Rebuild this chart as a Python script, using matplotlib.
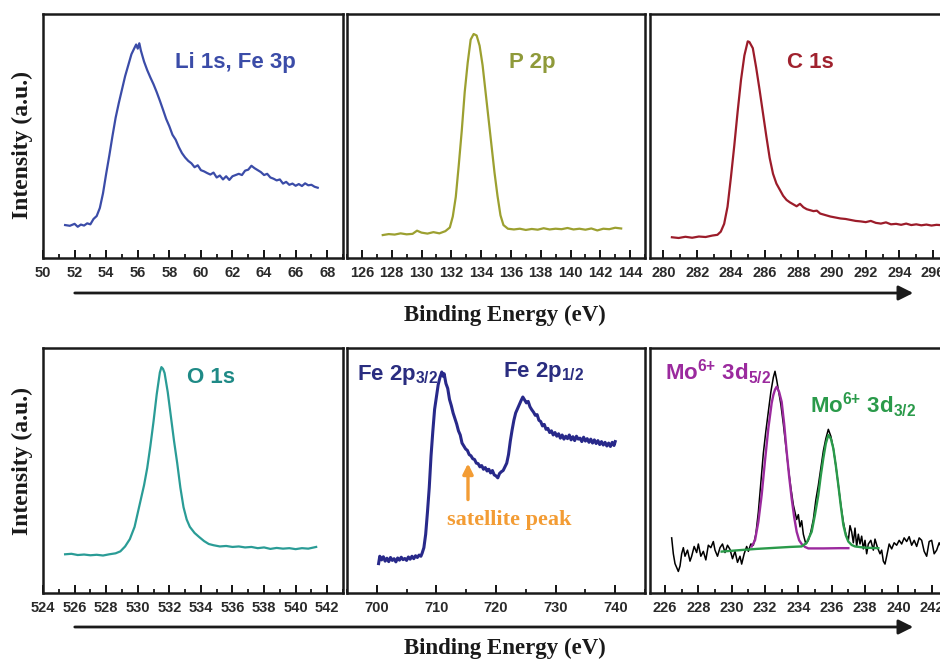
import matplotlib
matplotlib.use("Agg")
import matplotlib.pyplot as plt
from matplotlib.patches import FancyArrowPatch
from matplotlib.ticker import MultipleLocator

plt.rcParams['font.family'] = ['Liberation Sans', 'DejaVu Sans']
plt.rcParams['mathtext.default'] = 'regular'

# ---- Li 1s, Fe 3p ----
li_x = [51.4, 51.7, 52.0, 52.2, 52.4, 52.6, 52.8, 53.0, 53.2, 53.4, 53.6, 53.8, 54.0, 54.2,
        54.4, 54.6, 54.8, 55.0, 55.2, 55.4, 55.6, 55.8, 55.9, 56.0, 56.1, 56.2, 56.4, 56.6,
        56.8, 57.0, 57.2, 57.4, 57.6, 57.8, 58.0, 58.2, 58.4, 58.6, 58.8, 59.0, 59.2, 59.4,
        59.6, 59.8, 60.0, 60.2, 60.4, 60.6, 60.8, 61.0, 61.2, 61.4, 61.6, 61.8, 62.0, 62.2,
        62.4, 62.6, 62.8, 63.0, 63.2, 63.4, 63.6, 63.8, 64.0, 64.2, 64.4, 64.6, 64.8, 65.0,
        65.2, 65.4, 65.6, 65.8, 66.0, 66.2, 66.4, 66.6, 66.8, 67.0, 67.2, 67.4]
li_y = [0.135, 0.132, 0.140, 0.128, 0.137, 0.133, 0.142, 0.138, 0.160, 0.172, 0.205, 0.265,
        0.345, 0.420, 0.500, 0.575, 0.635, 0.690, 0.745, 0.790, 0.835, 0.862, 0.875, 0.858,
        0.880, 0.850, 0.805, 0.770, 0.740, 0.712, 0.680, 0.645, 0.608, 0.570, 0.540, 0.505,
        0.485, 0.455, 0.430, 0.412, 0.398, 0.388, 0.372, 0.380, 0.360, 0.355, 0.348, 0.342,
        0.350, 0.330, 0.338, 0.322, 0.335, 0.320, 0.335, 0.340, 0.345, 0.340, 0.358, 0.362,
        0.378, 0.368, 0.360, 0.352, 0.340, 0.345, 0.330, 0.325, 0.318, 0.322, 0.305, 0.312,
        0.300, 0.305, 0.296, 0.303, 0.295, 0.306, 0.298, 0.300, 0.292, 0.288]

# ---- P 2p ----
p_x = [127.4, 127.8, 128.2, 128.6, 129.0, 129.4, 129.7, 130.0, 130.4, 130.8, 131.2, 131.6,
       131.9, 132.1, 132.3, 132.5, 132.7, 132.9, 133.1, 133.3, 133.5, 133.7, 133.9, 134.1,
       134.3, 134.5, 134.7, 134.9, 135.1, 135.3, 135.5, 135.8, 136.2, 136.6, 137.0, 137.4,
       137.8, 138.2, 138.6, 139.0, 139.4, 139.8, 140.2, 140.6, 141.0, 141.4, 141.8, 142.2,
       142.6, 143.0, 143.4]
p_y = [0.094, 0.098, 0.096, 0.101, 0.097, 0.099, 0.112, 0.104, 0.100, 0.106, 0.101, 0.110,
       0.125, 0.170, 0.250, 0.380, 0.520, 0.680, 0.800, 0.895, 0.918, 0.912, 0.870, 0.790,
       0.680, 0.570, 0.460, 0.350, 0.255, 0.175, 0.135, 0.120, 0.117, 0.120, 0.115, 0.119,
       0.116, 0.122, 0.117, 0.120, 0.118, 0.123, 0.117, 0.120, 0.116, 0.121, 0.113, 0.120,
       0.118, 0.124, 0.121]

# ---- C 1s ----
c_x = [280.5, 280.9, 281.3, 281.7, 282.1, 282.5, 282.9, 283.2, 283.4, 283.6, 283.8, 284.0,
       284.2, 284.4, 284.6, 284.8, 285.0, 285.1, 285.3, 285.5, 285.7, 285.9, 286.1, 286.3,
       286.5, 286.7, 286.9, 287.1, 287.3, 287.5, 287.7, 287.9, 288.1, 288.3, 288.5, 288.7,
       288.9, 289.1, 289.3, 289.6, 289.9, 290.2, 290.5, 290.8, 291.1, 291.4, 291.7, 292.0,
       292.3, 292.6, 292.9, 293.2, 293.5, 293.8, 294.1, 294.4, 294.7, 295.0, 295.3, 295.6,
       295.9, 296.2, 296.6, 297.0]
c_y = [0.085, 0.082, 0.087, 0.083, 0.088, 0.086, 0.092, 0.095, 0.108, 0.140, 0.210, 0.330,
       0.460, 0.600, 0.730, 0.830, 0.888, 0.885, 0.860, 0.780, 0.690, 0.595, 0.500, 0.410,
       0.345, 0.305, 0.280, 0.255, 0.238, 0.228, 0.220, 0.212, 0.222, 0.208, 0.200, 0.196,
       0.192, 0.194, 0.182, 0.176, 0.170, 0.166, 0.162, 0.160, 0.156, 0.152, 0.150, 0.147,
       0.152, 0.144, 0.141, 0.146, 0.138, 0.140, 0.136, 0.141, 0.135, 0.138, 0.134, 0.137,
       0.133, 0.136, 0.134, 0.135]

# ---- O 1s ----
o_x = [525.4, 525.8, 526.2, 526.6, 527.0, 527.4, 527.8, 528.2, 528.6, 528.9, 529.2, 529.5,
       529.8, 530.1, 530.4, 530.6, 530.8, 531.0, 531.2, 531.4, 531.5, 531.6, 531.7, 531.9,
       532.1, 532.3, 532.5, 532.7, 532.9, 533.1, 533.3, 533.6, 533.9, 534.2, 534.5, 534.8,
       535.2, 535.6, 536.0, 536.4, 536.8, 537.2, 537.6, 538.0, 538.4, 538.8, 539.2, 539.6,
       540.0, 540.4, 540.8, 541.3]
o_y = [0.158, 0.160, 0.155, 0.157, 0.154, 0.156, 0.153, 0.158, 0.162, 0.170, 0.190, 0.220,
       0.270, 0.355, 0.440, 0.510, 0.600, 0.700, 0.810, 0.900, 0.922, 0.915, 0.898, 0.820,
       0.720, 0.620, 0.530, 0.430, 0.350, 0.300, 0.270, 0.245, 0.228, 0.212, 0.200, 0.195,
       0.190, 0.192, 0.188, 0.190, 0.186, 0.188, 0.183, 0.186, 0.180, 0.184, 0.181, 0.183,
       0.179, 0.183, 0.181, 0.188]

# ---- Fe 2p ----
fe_x = [700.3, 700.5, 700.8, 701.1, 701.4, 701.7, 702.0, 702.3, 702.6, 702.9, 703.2, 703.5,
        703.8, 704.1, 704.4, 704.7, 705.0, 705.3, 705.6, 705.9, 706.2, 706.5, 706.8, 707.1,
        707.4, 707.6, 707.9, 708.2, 708.5, 708.8, 709.1, 709.4, 709.7, 710.0, 710.3, 710.6,
        710.9, 711.1, 711.3, 711.6, 711.9, 712.2, 712.5, 712.8, 713.1, 713.4, 713.7, 714.0,
        714.3, 714.6, 714.9, 715.2, 715.5, 715.8, 716.1, 716.4, 716.7, 717.0, 717.3, 717.6,
        717.9, 718.2, 718.5, 718.8, 719.1, 719.4, 719.7, 720.0, 720.3, 720.6, 720.9, 721.2,
        721.5, 721.8, 722.1, 722.4, 722.7, 723.0, 723.3, 723.6, 723.9, 724.2, 724.5, 724.8,
        725.1, 725.4, 725.7, 726.0, 726.3, 726.6, 726.9, 727.2, 727.5, 727.8, 728.1, 728.4,
        728.7, 729.0, 729.3, 729.6, 729.9, 730.2, 730.5, 730.8, 731.1, 731.4, 731.7, 732.0,
        732.3, 732.6, 732.9, 733.2, 733.5, 733.8, 734.1, 734.4, 734.7, 735.0, 735.3, 735.6,
        735.9, 736.2, 736.5, 736.8, 737.1, 737.4, 737.7, 738.0, 738.3, 738.6, 738.9, 739.2,
        739.5, 739.8, 740.0]
fe_y = [0.120, 0.150, 0.135, 0.148, 0.130, 0.142, 0.128, 0.145, 0.133, 0.140, 0.127, 0.143,
        0.134, 0.146, 0.136, 0.141, 0.133, 0.147, 0.138, 0.150, 0.140, 0.152, 0.145, 0.155,
        0.150, 0.162, 0.185, 0.240, 0.330, 0.430, 0.560, 0.660, 0.750, 0.800, 0.850, 0.880,
        0.902, 0.885, 0.895, 0.855, 0.835, 0.790, 0.765, 0.735, 0.712, 0.690, 0.662, 0.645,
        0.612, 0.600, 0.588, 0.582, 0.565, 0.560, 0.548, 0.545, 0.530, 0.528, 0.515, 0.520,
        0.505, 0.512, 0.498, 0.505, 0.490, 0.500, 0.482, 0.478, 0.470, 0.488, 0.495, 0.500,
        0.515, 0.530, 0.565, 0.620, 0.665, 0.705, 0.735, 0.752, 0.770, 0.785, 0.800, 0.788,
        0.776, 0.782, 0.760, 0.748, 0.738, 0.725, 0.728, 0.705, 0.700, 0.682, 0.688, 0.668,
        0.672, 0.655, 0.662, 0.645, 0.655, 0.640, 0.650, 0.632, 0.645, 0.628, 0.640, 0.630,
        0.645, 0.625, 0.638, 0.622, 0.640, 0.628, 0.632, 0.618, 0.636, 0.620, 0.630, 0.615,
        0.628, 0.612, 0.625, 0.610, 0.622, 0.606, 0.618, 0.604, 0.615, 0.600, 0.612, 0.598,
        0.615, 0.602, 0.618]

# ---- Mo 3d: raw data + two fitted components ----
mo_x = [226.4, 226.5, 226.6, 226.8, 226.9, 227.0, 227.1, 227.2, 227.35, 227.5, 227.6, 227.75,
        227.9, 228.0, 228.15, 228.3, 228.45, 228.6, 228.75, 228.9, 229.0, 229.15, 229.3,
        229.45, 229.6, 229.75, 229.9, 230.05, 230.2, 230.35, 230.5, 230.6, 230.75, 230.9,
        231.0, 231.15, 231.3, 231.45, 231.6, 231.75, 231.9, 232.05, 232.2, 232.35, 232.5,
        232.6, 232.7, 232.8, 232.95, 233.1, 233.25, 233.4, 233.55, 233.7, 233.8, 233.9, 234.0,
        234.1, 234.2, 234.3, 234.45, 234.6, 234.75, 234.9, 235.05, 235.2, 235.35, 235.5,
        235.65, 235.8, 235.95, 236.1, 236.25, 236.4, 236.55, 236.7, 236.85, 237.0, 237.1,
        237.2, 237.3, 237.4, 237.5, 237.6, 237.7, 237.8, 237.9, 238.0, 238.1, 238.2, 238.35,
        238.5, 238.6, 238.75, 238.9, 239.0, 239.1, 239.2, 239.3, 239.45, 239.6, 239.75, 239.9,
        240.05, 240.2, 240.35, 240.5, 240.65, 240.8, 240.95, 241.1, 241.25, 241.4, 241.55,
        241.7, 241.85, 242.0, 242.15, 242.3, 242.45, 242.6, 242.8, 243.0]
mo_y = [0.225, 0.160, 0.120, 0.088, 0.110, 0.160, 0.185, 0.150, 0.175, 0.130, 0.150, 0.190,
        0.165, 0.200, 0.150, 0.170, 0.135, 0.195, 0.185, 0.210, 0.175, 0.150, 0.185, 0.200,
        0.165, 0.195, 0.178, 0.140, 0.170, 0.125, 0.150, 0.118, 0.160, 0.190, 0.170, 0.200,
        0.195, 0.240, 0.330, 0.450, 0.570, 0.660, 0.740, 0.820, 0.880, 0.905, 0.870, 0.830,
        0.770, 0.690, 0.600, 0.510, 0.430, 0.360, 0.330, 0.300, 0.320, 0.270, 0.295, 0.240,
        0.200, 0.215, 0.250, 0.300, 0.380, 0.440, 0.510, 0.580, 0.630, 0.668, 0.640, 0.590,
        0.520, 0.440, 0.360, 0.290, 0.240, 0.215, 0.275, 0.250, 0.205, 0.265, 0.190, 0.240,
        0.200, 0.232, 0.180, 0.215, 0.160, 0.200, 0.215, 0.175, 0.220, 0.185, 0.160, 0.175,
        0.130, 0.118, 0.150, 0.200, 0.180, 0.205, 0.195, 0.215, 0.200, 0.225, 0.210, 0.230,
        0.195, 0.215, 0.190, 0.225, 0.215, 0.170, 0.150, 0.210, 0.215, 0.160, 0.175, 0.205,
        0.185, 0.200, 0.190]
mo52_x = [231.2, 231.4, 231.6, 231.8, 232.0, 232.2, 232.4, 232.5, 232.6, 232.7, 232.85, 233.0,
          233.15, 233.3, 233.45, 233.6, 233.75, 233.9, 234.05, 234.2, 234.4, 234.6, 235.5,
          236.5, 237.0]
mo52_y = [0.190, 0.215, 0.290, 0.400, 0.540, 0.672, 0.775, 0.808, 0.830, 0.842, 0.820, 0.780,
          0.690, 0.577, 0.475, 0.386, 0.310, 0.250, 0.215, 0.200, 0.188, 0.182, 0.182, 0.183,
          0.183]
mo32_x = [229.4, 230.5, 231.5, 232.5, 233.5, 234.2, 234.5, 234.8, 235.0, 235.2, 235.35, 235.5,
          235.65, 235.8, 235.95, 236.1, 236.25, 236.4, 236.55, 236.7, 236.85, 237.0, 237.2,
          237.4, 238.0, 238.8]
mo32_y = [0.169, 0.175, 0.180, 0.184, 0.188, 0.190, 0.205, 0.250, 0.320, 0.400, 0.480, 0.550,
          0.610, 0.645, 0.630, 0.590, 0.520, 0.440, 0.355, 0.278, 0.235, 0.210, 0.196, 0.190,
          0.185, 0.183]

xlims = [(50, 69), (125, 145), (279.2, 297.0), (524, 543), (695, 745), (225.1, 243.1)]

W, H = 940, 659
fig = plt.figure(figsize=(W / 100, H / 100), dpi=100)


def px_axes(left, top, right, bottom):
    return fig.add_axes([left / W, 1 - bottom / H, (right - left) / W, (bottom - top) / H])


axes = [px_axes(43, 14, 343, 258), px_axes(347, 14, 645, 258), px_axes(650, 14, 950, 258),
        px_axes(43, 348, 343, 593), px_axes(347, 348, 645, 593), px_axes(650, 348, 950, 593)]

for i, ax in enumerate(axes):
    ax.set_xlim(*xlims[i])
    ax.set_ylim(0, 1)
    ax.set_yticks([])
    if i == 4:
        ax.xaxis.set_major_locator(MultipleLocator(10))
        ax.xaxis.set_minor_locator(MultipleLocator(5))
    else:
        ax.xaxis.set_major_locator(MultipleLocator(2))
        ax.xaxis.set_minor_locator(MultipleLocator(1))
    ax.tick_params(axis='x', which='major', direction='in', length=6, width=1.3, pad=6,
                   labelsize=10.5, labelcolor='#2a2a2a')
    ax.tick_params(axis='x', which='minor', direction='in', length=3, width=1.2)
    for lab in ax.get_xticklabels():
        lab.set_fontweight('bold')
    for sp in ax.spines.values():
        sp.set_linewidth(1.8)
        sp.set_color('#1a1a1a')

ax1, ax2, ax3, ax4, ax5, ax6 = axes

lbl = dict(fontsize=16, fontweight='bold')

ax1.plot(li_x, li_y, color='#3b4ca8', lw=1.6)
ax1.text(0.64, 0.80, 'Li 1s, Fe 3p', color='#3b4ca8', ha='center', va='center',
         transform=ax1.transAxes, **lbl)

ax2.plot(p_x, p_y, color='#9ca030', lw=1.6)
ax2.text(0.62, 0.80, 'P 2p', color='#8f9a3a', ha='center', va='center',
         transform=ax2.transAxes, **lbl)

ax3.plot(c_x, c_y, color='#9c1c2a', lw=1.6)
ax3.text(0.533, 0.80, 'C 1s', color='#a0222e', ha='center', va='center',
         transform=ax3.transAxes, **lbl)

ax4.plot(o_x, o_y, color='#2a9c96', lw=1.6)
ax4.text(0.56, 0.878, 'O 1s', color='#1f8a86', ha='center', va='center',
         transform=ax4.transAxes, **lbl)

ax5.plot(fe_x, fe_y, color='#28298a', lw=2.2)
ax5.text(0.034, 0.869, 'Fe 2p$_{3/2}$', color='#2a2d80', ha='left', va='baseline',
         transform=ax5.transAxes, **lbl)
ax5.text(0.523, 0.882, 'Fe 2p$_{1/2}$', color='#2a2d80', ha='left', va='baseline',
         transform=ax5.transAxes, **lbl)
ax5.annotate('', xy=(715.3, 0.54), xytext=(715.3, 0.37),
             arrowprops=dict(arrowstyle='-|>', color='#f39c34', lw=2.4, mutation_scale=15))
ax5.text(0.544, 0.298, 'satellite peak', color='#f39c34', ha='center', va='center',
         transform=ax5.transAxes, fontsize=16, fontweight='bold',
         family=['Liberation Serif', 'DejaVu Serif'])

ax6.plot(mo_x, mo_y, color='black', lw=1.1)
ax6.plot(mo52_x, mo52_y, color='#9b2a9e', lw=1.7)
ax6.plot(mo32_x, mo32_y, color='#2a9a4a', lw=1.7)
ax6.text(0.05, 0.869, 'Mo$^{6{+}}$ 3d$_{5/2}$', color='#9b2a9e', ha='left', va='baseline',
         transform=ax6.transAxes, **lbl)
ax6.text(0.533, 0.735, 'Mo$^{6{+}}$ 3d$_{3/2}$', color='#2a9a4a', ha='left', va='baseline',
         transform=ax6.transAxes, **lbl)

serif = ['Liberation Serif', 'DejaVu Serif']
for yc in (145, 461):
    fig.text(22 / W, 1 - yc / H, 'Intensity (a.u.)', rotation=90, ha='center', va='center',
             fontsize=17, fontweight='bold', family=serif, color='#1a1a1a')
for yc in (315, 648):
    fig.text(505 / W, 1 - yc / H, 'Binding Energy (eV)', ha='center', va='center',
             fontsize=16.5, fontweight='bold', family=serif, color='#1a1a1a')
for ya in (293, 627):
    arrow = FancyArrowPatch((72 / W, 1 - ya / H), (916 / W, 1 - ya / H),
                            transform=fig.transFigure, arrowstyle='-|>', mutation_scale=22,
                            lw=2.0, color='#1a1a1a')
    fig.add_artist(arrow)

fig.savefig('out.png', dpi=100)
